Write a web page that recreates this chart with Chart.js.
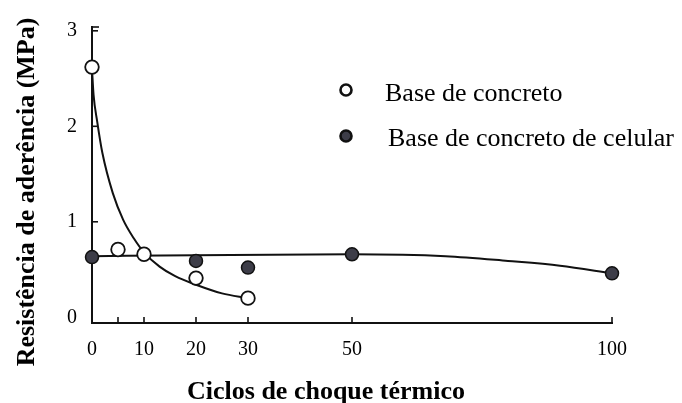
<!DOCTYPE html>
<html><head><meta charset="utf-8">
<script src="https://cdn.jsdelivr.net/npm/chart.js@4"></script>
<style>html,body{margin:0;padding:0;background:#fff}canvas{display:block}</style>
</head><body>
<canvas id="c" width="682" height="403"></canvas>
<script>
const xTickLabels = [0, 10, 20, 30, 50, 100];
const xTickMarks = [5, 10, 20, 30, 50, 100];
const yTickLabels = [0, 1, 2, 3];

const concretoX = [0, 5, 10, 20, 30];
const concretoY = [2.62, 0.71, 0.66, 0.41, 0.20];
const celularX = [0, 20, 30, 50, 100];
const celularY = [0.63, 0.59, 0.52, 0.66, 0.46];

const curvaConcretoX = [0, 0.3, 1, 2, 4, 6, 8, 10, 13, 16, 20, 25, 30];
const curvaConcretoY = [2.6, 2.33, 2.05, 1.72, 1.3, 1.02, 0.83, 0.68, 0.53, 0.43, 0.34, 0.25, 0.2];
const curvaCelularX = [0, 20, 50, 68, 80, 90, 100];
const curvaCelularY = [0.64, 0.65, 0.66, 0.64, 0.59, 0.54, 0.46];

const legendLabels = ['Base de concreto', 'Base de concreto de celular'];
const xTitle = 'Ciclos de choque térmico';
const yTitle = 'Resistência de aderência (MPa)';

const pts = (xs, ys) => xs.map((x, i) => ({x, y: ys[i]}));
const SERIF = '"Liberation Serif", "Times New Roman", serif';
const INK = '#111';
const FILL = '#3d3d48';

const decor = {
  id: 'decor',
  afterDraw(chart) {
    const {ctx, scales: {x, y}, chartArea: a} = chart;
    ctx.save();
    ctx.strokeStyle = INK;
    ctx.lineWidth = 1.6;
    xTickMarks.forEach(v => {
      const px = x.getPixelForValue(v);
      ctx.beginPath(); ctx.moveTo(px, a.bottom); ctx.lineTo(px, a.bottom - 6); ctx.stroke();
    });
    yTickLabels.slice(1).forEach(v => {
      const py = y.getPixelForValue(v);
      ctx.beginPath(); ctx.moveTo(a.left, py); ctx.lineTo(a.left + 6, py); ctx.stroke();
    });
    ctx.beginPath(); ctx.moveTo(a.left, a.top); ctx.lineTo(a.left + 7, a.top); ctx.stroke();

    // axis titles
    ctx.fillStyle = '#000';
    ctx.font = 'bold 26px ' + SERIF;
    ctx.textAlign = 'center';
    ctx.textBaseline = 'alphabetic';
    ctx.fillText(xTitle, 326, 399);
    ctx.save();
    ctx.translate(34, 192);
    ctx.rotate(-Math.PI / 2);
    ctx.fillText(yTitle, 0, 0);
    ctx.restore();

    // legend
    ctx.font = '26px ' + SERIF;
    ctx.textAlign = 'left';
    ctx.lineWidth = 2.6;
    ctx.beginPath(); ctx.arc(346, 90, 5.5, 0, Math.PI * 2);
    ctx.fillStyle = '#fff'; ctx.fill(); ctx.strokeStyle = INK; ctx.stroke();
    ctx.beginPath(); ctx.arc(346, 136, 5.5, 0, Math.PI * 2);
    ctx.fillStyle = FILL; ctx.fill(); ctx.stroke();
    ctx.fillStyle = '#000';
    ctx.fillText(legendLabels[0], 385, 101);
    ctx.fillText(legendLabels[1], 388, 146);
    ctx.restore();
  }
};

new Chart(document.getElementById('c'), {
  type: 'scatter',
  data: {
    datasets: [
      {label: legendLabels[0], data: pts(concretoX, concretoY), pointRadius: 6.8, pointBackgroundColor: '#fff',
       pointBorderColor: INK, pointBorderWidth: 1.8, showLine: false, clip: false, order: 0},
      {label: legendLabels[1], data: pts(celularX, celularY), pointRadius: 6.5, pointBackgroundColor: FILL,
       pointBorderColor: INK, pointBorderWidth: 1.5, showLine: false, clip: false, order: 1},
      {label: 'curva1', data: pts(curvaConcretoX, curvaConcretoY), showLine: true, pointRadius: 0,
       borderColor: INK, borderWidth: 2, cubicInterpolationMode: 'monotone', clip: false, order: 2},
      {label: 'curva2', data: pts(curvaCelularX, curvaCelularY), showLine: true, pointRadius: 0,
       borderColor: INK, borderWidth: 2, cubicInterpolationMode: 'monotone', clip: false, order: 3}
    ]
  },
  options: {
    responsive: false,
    animation: false,
    layout: {padding: {top: 22, right: 70, left: 0, bottom: 0}},
    plugins: {legend: {display: false}, tooltip: {enabled: false}},
    scales: {
      x: {
        type: 'linear', min: 0, max: 100,
        afterFit(s) { s.height = 80; },
        afterBuildTicks(s) { s.ticks = xTickLabels.map(v => ({value: v})); },
        grid: {display: false, drawTicks: false},
        border: {display: true, color: INK, width: 2},
        ticks: {color: '#000', padding: 15, font: {family: SERIF, size: 20}, maxRotation: 0, autoSkip: false}
      },
      y: {
        type: 'linear', min: -0.06, max: 3.04,
        afterFit(s) { s.width = 92; },
        afterBuildTicks(s) { s.ticks = yTickLabels.map(v => ({value: v})); },
        grid: {display: false, drawTicks: false},
        border: {display: true, color: INK, width: 2},
        ticks: {color: '#000', padding: 15, font: {family: SERIF, size: 20}}
      }
    }
  },
  plugins: [decor]
});
</script>
</body></html>
